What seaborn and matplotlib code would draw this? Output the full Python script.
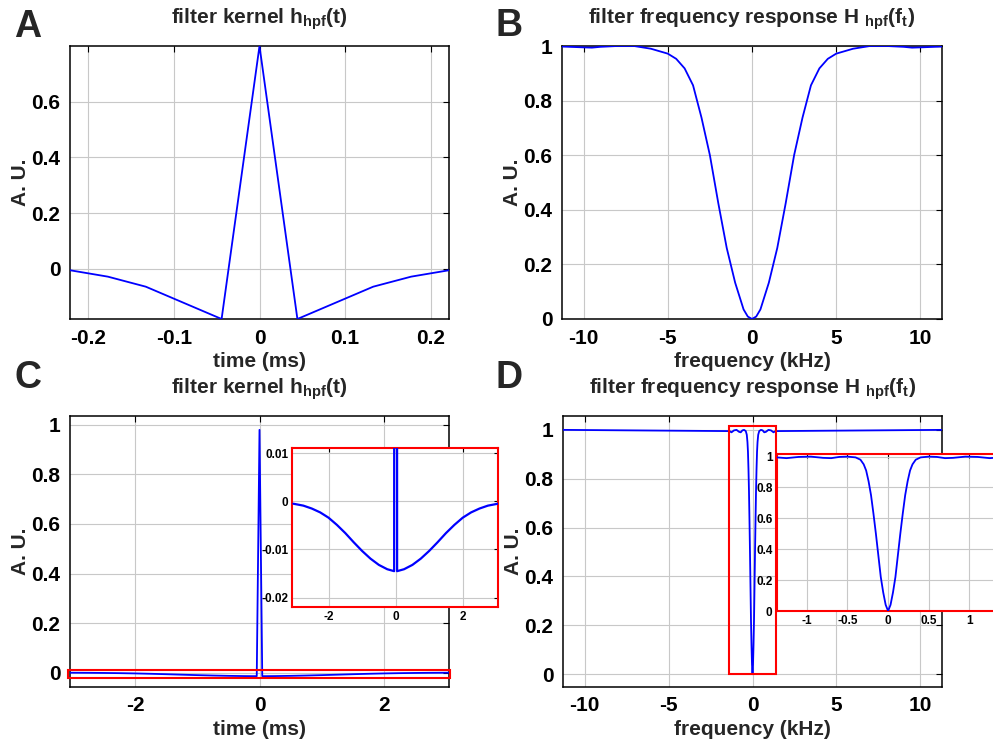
import matplotlib
matplotlib.use('Agg')
import matplotlib.pyplot as plt
import seaborn as sns
import pandas as pd
from matplotlib.patches import Rectangle
from matplotlib.ticker import FuncFormatter

# ---------------- data ----------------
# Panel A: short high-pass kernel (ms, A.U.)
a_time = [-0.2215, -0.1772, -0.1329, -0.0886, -0.0443, 0.0, 0.0443, 0.0886, 0.1329, 0.1772, 0.2215]
a_kernel = [-0.005, -0.028, -0.064, -0.122, -0.180, 0.800, -0.180, -0.122, -0.064, -0.028, -0.005]

# Panel B: frequency response of the short kernel (kHz, A.U.)
b_freq = [-11.28, -10.0, -9.5, -9.0, -8.0, -7.0, -6.0, -5.0, -4.5, -4.0, -3.5, -3.0, -2.5, -2.0, -1.5,
          -1.0, -0.5, -0.25, 0.0, 0.25, 0.5, 1.0, 1.5, 2.0, 2.5, 3.0, 3.5, 4.0, 4.5, 5.0, 6.0, 7.0, 8.0, 9.0,
          9.5, 10.0, 11.28]
b_resp = [0.998, 0.995, 0.994, 0.997, 1.0, 1.0, 0.99, 0.972, 0.953, 0.918, 0.856, 0.738, 0.600, 0.424, 0.260,
          0.133, 0.035, 0.009, 0.0, 0.009, 0.035, 0.133, 0.260, 0.424, 0.600, 0.738, 0.856, 0.918, 0.953, 0.972,
          0.99, 1.0, 1.0, 0.997, 0.994, 0.995, 0.998]

# Panel C: long high-pass kernel (ms, A.U.)
c_time = [-3.05, -2.75, -2.5, -2.25, -2.0, -1.75, -1.5, -1.25, -1.0, -0.75, -0.5, -0.25, -0.0443,
          0.0, 0.0443, 0.25, 0.5, 0.75, 1.0, 1.25, 1.5, 1.75, 2.0, 2.25, 2.5, 2.75, 3.05]
c_kernel = [-0.0005, -0.0009, -0.0015, -0.0023, -0.0034, -0.0049, -0.0066, -0.0085, -0.0103, -0.0119,
            -0.0132, -0.0141, -0.0145, 0.98, -0.0145, -0.0141, -0.0132, -0.0119, -0.0103, -0.0085,
            -0.0066, -0.0049, -0.0034, -0.0023, -0.0015, -0.0009, -0.0005]

# Panel D: frequency response of the long kernel (kHz, A.U.)
d_freq = [-11.28, -1.37, -1.25, -1.1, -0.95, -0.8, -0.7, -0.6, -0.5, -0.4, -0.34, -0.30, -0.27, -0.24,
          -0.21, -0.18, -0.15, -0.12, -0.09, -0.06, -0.03, 0.0, 0.03, 0.06, 0.09, 0.12, 0.15, 0.18, 0.21,
          0.24, 0.27, 0.30, 0.34, 0.4, 0.5, 0.6, 0.7, 0.8, 0.95, 1.1, 1.25, 1.37, 11.28]
d_resp = [1.0, 0.995, 0.99, 0.998, 1.0, 0.992, 0.99, 0.998, 1.0, 0.995, 0.98, 0.95, 0.91, 0.84,
          0.75, 0.63, 0.50, 0.36, 0.22, 0.12, 0.04, 0.0, 0.04, 0.12, 0.22, 0.36, 0.50, 0.63, 0.75,
          0.84, 0.91, 0.95, 0.98, 0.995, 1.0, 0.998, 0.99, 0.992, 1.0, 0.998, 0.99, 0.995, 1.0]

# tick values
a_xticks = [-0.2, -0.1, 0, 0.1, 0.2]
a_yticks = [0, 0.2, 0.4, 0.6]
b_xticks = [-10, -5, 0, 5, 10]
b_yticks = [0, 0.2, 0.4, 0.6, 0.8, 1]
c_xticks = [-2, 0, 2]
c_yticks = [0, 0.2, 0.4, 0.6, 0.8, 1]
ci_yticks = [-0.02, -0.01, 0, 0.01]
di_xticks = [-1, -0.5, 0, 0.5, 1]

# ---------------- style ----------------
sns.set_theme(style='whitegrid')
plt.rcParams['font.family'] = ['Liberation Sans', 'DejaVu Sans']
plt.rcParams['font.weight'] = 'bold'
plt.rcParams['axes.unicode_minus'] = False
plt.rcParams['mathtext.fontset'] = 'custom'
plt.rcParams['mathtext.rm'] = 'Liberation Sans:bold'
plt.rcParams['mathtext.it'] = 'Liberation Sans:bold'
plt.rcParams['mathtext.bf'] = 'Liberation Sans:bold'
plt.rcParams['mathtext.default'] = 'rm'

fmt = FuncFormatter(lambda v, p: '0' if abs(v) < 1e-12 else f'{v:g}')

fig = plt.figure(figsize=(9.93, 7.44), dpi=100)
fig.patch.set_facecolor('white')

W, H = 993.0, 744.0


def add_ax(x0, y0, x1, y1, z=1):
    return fig.add_axes([x0 / W, 1 - y1 / H, (x1 - x0) / W, (y1 - y0) / H], zorder=z)


def style(ax, size, pad, spine_color='black', tlen=4):
    ax.set_facecolor('white')
    ax.grid(True, color='#c8c8c8', lw=0.8)
    for s in ax.spines.values():
        s.set_visible(True)
        s.set_color(spine_color)
        s.set_linewidth(1.1 if spine_color == 'black' else 1.5)
    ax.tick_params(direction='in', top=True, right=True, length=tlen, width=0.8,
                   color='black', labelsize=size, pad=pad, labelcolor='black')
    ax.xaxis.set_major_formatter(fmt)
    ax.yaxis.set_major_formatter(fmt)
    for lab in ax.get_xticklabels() + ax.get_yticklabels():
        lab.set_fontweight('bold')


def line(ax, x, y, lw=1.3):
    df = pd.DataFrame({'x': x, 'y': y})
    sns.lineplot(data=df, x='x', y='y', ax=ax, color='blue', linewidth=lw,
                 estimator=None, sort=False, errorbar=None)
    for l in ax.lines:
        l.set_zorder(3)
    ax.set_xlabel('')
    ax.set_ylabel('')


TFS = 15
XLP = 3
YLP = 1
title_k = r'filter kernel h$_{\mathrm{hpf}}$(t)'
title_f = r'filter frequency response H $_{\mathrm{hpf}}$(f$_{\mathrm{t}}$)'

# ---------- A ----------
axA = add_ax(70, 46, 449, 319)
line(axA, a_time, a_kernel)
axA.set_xlim(-0.2215, 0.2215)
axA.set_ylim(-0.18, 0.80)
axA.set_xticks(a_xticks)
axA.set_yticks(a_yticks)
style(axA, TFS, 7)
axA.set_title(title_k, fontsize=TFS, fontweight='bold', pad=16)
axA.set_xlabel('time (ms)', fontsize=TFS, fontweight='bold', labelpad=XLP)
axA.set_ylabel('A. U.', fontsize=TFS, fontweight='bold', labelpad=YLP)

# ---------- B ----------
axB = add_ax(562, 46, 942, 319)
line(axB, b_freq, b_resp)
axB.set_xlim(-11.28, 11.28)
axB.set_ylim(0, 1)
axB.set_xticks(b_xticks)
axB.set_yticks(b_yticks)
style(axB, TFS, 7)
axB.set_title(title_f, fontsize=TFS, fontweight='bold', pad=16)
axB.set_xlabel('frequency (kHz)', fontsize=TFS, fontweight='bold', labelpad=XLP)
axB.set_ylabel('A. U.', fontsize=TFS, fontweight='bold', labelpad=YLP)

# ---------- C ----------
axC = add_ax(70, 416, 449, 686.7)
line(axC, c_time, c_kernel)
axC.set_xlim(-3.05, 3.05)
axC.set_ylim(-0.057, 1.036)
axC.set_xticks(c_xticks)
axC.set_yticks(c_yticks)
style(axC, TFS, 7)
axC.set_title(title_k, fontsize=TFS, fontweight='bold', pad=16)
axC.set_xlabel('time (ms)', fontsize=TFS, fontweight='bold', labelpad=XLP)
axC.set_ylabel('A. U.', fontsize=TFS, fontweight='bold', labelpad=YLP)

ci_xlim = (-3.08, 3.06)
ci_ylim = (-0.022, 0.011)
axC.add_patch(Rectangle((ci_xlim[0], ci_ylim[0]), ci_xlim[1] - ci_xlim[0], ci_ylim[1] - ci_ylim[0],
                        fill=False, edgecolor='red', lw=1.5, zorder=4, clip_on=False))

axCi = add_ax(292.3, 448.3, 498.3, 607.3, z=5)
line(axCi, c_time, c_kernel, lw=1.6)
axCi.set_xlim(*ci_xlim)
axCi.set_ylim(*ci_ylim)
axCi.set_xticks(c_xticks)
axCi.set_yticks(ci_yticks)
style(axCi, 8.5, 3, spine_color='red', tlen=3)

# ---------- D ----------
axD = add_ax(563, 415.7, 942, 686.7)
line(axD, d_freq, d_resp)
axD.set_xlim(-11.28, 11.28)
axD.set_ylim(-0.051, 1.058)
axD.set_xticks(b_xticks)
axD.set_yticks(b_yticks)
style(axD, TFS, 7)
axD.set_title(title_f, fontsize=TFS, fontweight='bold', pad=16)
axD.set_xlabel('frequency (kHz)', fontsize=TFS, fontweight='bold', labelpad=XLP)
axD.set_ylabel('A. U.', fontsize=TFS, fontweight='bold', labelpad=YLP)

di_xlim = (-1.37, 1.37)
di_ylim = (0, 1.015)
axD.add_patch(Rectangle((di_xlim[0], di_ylim[0]), di_xlim[1] - di_xlim[0], di_ylim[1] - di_ylim[0],
                        fill=False, edgecolor='red', lw=1.5, zorder=4, clip_on=False))

axDi = add_ax(776.7, 454.3, 999.5, 611, z=5)
line(axDi, d_freq, d_resp)
axDi.set_xlim(*di_xlim)
axDi.set_ylim(*di_ylim)
axDi.set_xticks(di_xticks)
axDi.set_yticks(b_yticks)
style(axDi, 8.5, 3, spine_color='red', tlen=3)

# ---------- panel letters ----------
for lx, ly, s in [(14, 37, 'A'), (496, 36, 'B'), (14, 388, 'C'), (495, 388, 'D')]:
    fig.text(lx / W, 1 - ly / H, s, fontsize=27, fontweight='bold', ha='left', va='baseline')

fig.savefig('out.png', dpi=100, facecolor='white')
